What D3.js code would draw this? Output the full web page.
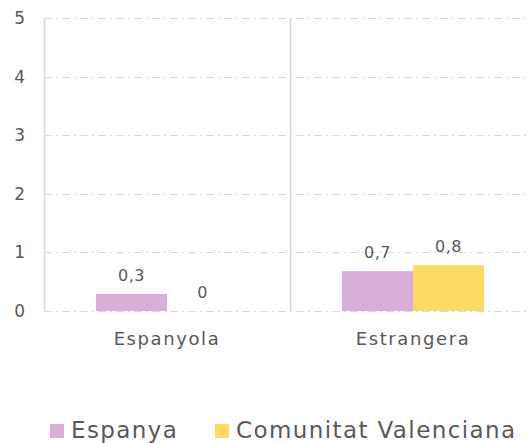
<!DOCTYPE html>
<html>
<head>
<meta charset="utf-8">
<script src="https://cdn.jsdelivr.net/npm/d3@7"></script>
<style>
  body { margin: 0; background: #fff; }
  text { font-family: "DejaVu Sans", sans-serif; fill: #595959; }
</style>
</head>
<body>
<svg id="chart" width="528" height="443"></svg>
<script>
// Data
var categories = ['Espanyola', 'Estrangera'];
var series = ['Espanya', 'Comunitat Valenciana'];
var espanya = [0.29, 0.68];
var comunitat = [0, 0.78];
var yTicks = [0, 1, 2, 3, 4, 5];
var colors = ['#d9aed9', '#ffd966'];

var svg = d3.select('#chart');

// Plot area
var plotLeft = 44, plotTop = 18, plotBottom = 311;
var catWidth = 246;

var x0 = d3.scaleBand()
  .domain(categories)
  .range([plotLeft, plotLeft + catWidth * categories.length])
  .paddingInner(0)
  .paddingOuter(0);

var x1 = d3.scaleBand()
  .domain(series)
  .range([0, x0.bandwidth()])
  .paddingInner(0)
  .paddingOuter(0.73);

var y = d3.scaleLinear()
  .domain([0, 5])
  .range([plotBottom, plotTop]);

var rows = categories.map(function(c, i) {
  return {cat: c, values: [espanya[i], comunitat[i]]};
});

// gridlines
svg.append('g')
  .selectAll('line')
  .data(yTicks)
  .join('line')
  .attr('x1', plotLeft)
  .attr('x2', 528)
  .attr('y1', function(d) { return Math.round(y(d)) + 0.5; })
  .attr('y2', function(d) { return Math.round(y(d)) + 0.5; })
  .attr('stroke', '#d9d9d9')
  .attr('stroke-width', 1.2)
  .attr('stroke-dasharray', '8,4,2,4');

// y tick labels
svg.append('g')
  .selectAll('text')
  .data(yTicks)
  .join('text')
  .attr('x', 25)
  .attr('y', function(d) { return y(d); })
  .attr('dy', '0.35em')
  .attr('text-anchor', 'end')
  .style('font-size', '17px')
  .text(function(d) { return d; });

// vertical separators
svg.append('g')
  .selectAll('line')
  .data(categories)
  .join('line')
  .attr('x1', function(d) { return Math.round(x0(d)) + 0.5; })
  .attr('x2', function(d) { return Math.round(x0(d)) + 0.5; })
  .attr('y1', plotTop)
  .attr('y2', plotBottom + 1)
  .attr('stroke', '#d9d9d9')
  .attr('stroke-width', 1.5);

// bars
var groups = svg.append('g')
  .selectAll('g')
  .data(rows)
  .join('g')
  .attr('transform', function(d) { return 'translate(' + x0(d.cat) + ',0)'; });

groups.selectAll('rect')
  .data(function(d) { return d.values.map(function(v, i) { return {s: series[i], v: v, i: i}; }); })
  .join('rect')
  .attr('x', function(d) { return x1(d.s); })
  .attr('width', x1.bandwidth())
  .attr('y', function(d) { return y(d.v); })
  .attr('height', function(d) { return y(0) - y(d.v); })
  .attr('fill', function(d) { return colors[d.i]; });

var fmt = function(v) { return d3.format('.1f')(v).replace('.', ',').replace(/,0$/, ''); };

groups.selectAll('text')
  .data(function(d) { return d.values.map(function(v, i) { return {s: series[i], v: v}; }); })
  .join('text')
  .attr('x', function(d) { return x1(d.s) + x1.bandwidth() / 2; })
  .attr('y', function(d) { return y(d.v) - 13; })
  .attr('text-anchor', 'middle')
  .style('font-size', '16px')
  .style('letter-spacing', '0.5px')
  .text(function(d) { return fmt(d.v); });

// category labels
svg.append('g')
  .selectAll('text')
  .data(categories)
  .join('text')
  .attr('x', function(d) { return x0(d) + x0.bandwidth() / 2; })
  .attr('y', 345)
  .attr('text-anchor', 'middle')
  .style('font-size', '18px')
  .style('letter-spacing', '1.6px')
  .text(function(d) { return d; });

// legend
var legendX = [50, 215];
var legend = svg.append('g')
  .selectAll('g')
  .data(series)
  .join('g')
  .attr('transform', function(d, i) { return 'translate(' + legendX[i] + ',424)'; });

legend.append('rect')
  .attr('width', 14)
  .attr('height', 14)
  .attr('fill', function(d, i) { return colors[i]; });

legend.append('text')
  .attr('x', 21)
  .attr('y', 14)
  .style('font-size', '23px')
  .style('letter-spacing', '1.4px')
  .text(function(d) { return d; });
</script>
</body>
</html>
